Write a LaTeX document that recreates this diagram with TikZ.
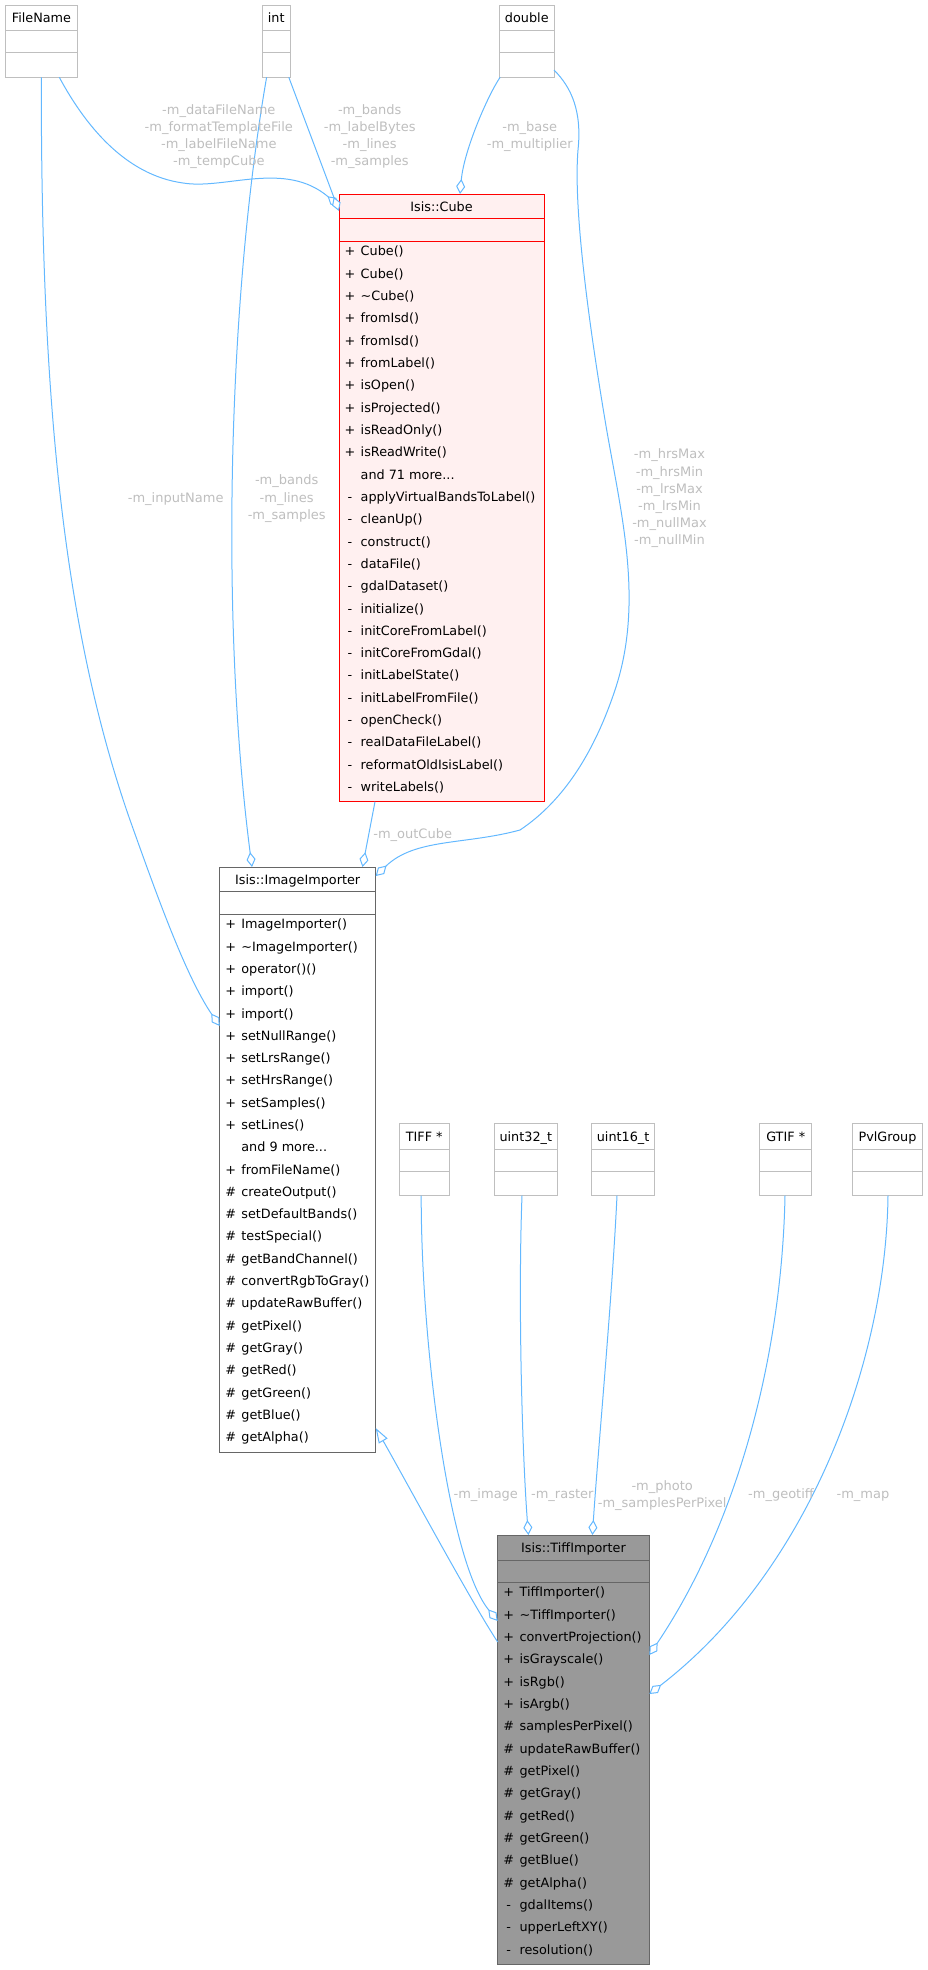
\documentclass[tikz,border=0pt]{standalone}
\usepackage{fontspec}
\usetikzlibrary{arrows.meta,calc}
\newfontfamily\dvs{DejaVu Sans}
\newcommand\cbfont{\dvs\fontsize{12.8}{15}\selectfont}
\newcommand\elfont{\dvs\fontsize{13}{17.2}\selectfont}
\newcommand\tdots{.\kern0pt.\kern0pt.}
\definecolor{edgeblue}{HTML}{63B8FF}
\definecolor{lblgray}{HTML}{BEBEBE}
\definecolor{typegray}{HTML}{BFBFBF}
\definecolor{cubered}{HTML}{FF0000}
\definecolor{cubefill}{HTML}{FFF0F0}
\definecolor{darkgraysix}{HTML}{666666}
\definecolor{tifffill}{HTML}{999999}
\tikzset{
 conn/.style={draw=edgeblue, line width=1pt},
 agg/.style={conn, -{Diamond[length=15pt,width=9pt,fill=white]}},
 inh/.style={conn, -{Triangle[length=15pt,width=10pt,fill=white]}},
 elabel/.style={text=lblgray, font=\elfont, align=center, inner sep=0pt},
 rowtxt/.style={font=\cbfont, inner sep=0pt, text=black},
 hdrtxt/.style={font=\cbfont, inner sep=0pt, anchor=base, text=black},
}
\newcommand\mkclass[9]{%
 \node[draw=#8, fill=#9, line width=1pt, minimum width=#4pt, minimum height=#5pt, anchor=north west, inner sep=0pt, outer sep=0pt] (#1) at (#2,#3) {};
 \draw[#8, line width=1pt] ($(#1.north west)+(0,#6)$) -- ($(#1.north east)+(0,#6)$);
 \draw[#8, line width=1pt] ($(#1.north west)+(0,#7)$) -- ($(#1.north east)+(0,#7)$);
}
\begin{document}
\begin{tikzpicture}[x=1pt,y=-1pt]
\useasboundingbox (0,0) rectangle (927,1970);
% ---- type boxes (top)
\mkclass{fn}{5.2}{5}{72.5}{72.3}{25.3}{47.3}{typegray}{white}
\node[hdrtxt] (fn-h) at ($(fn.north)+(0,17.8)$) {FileName};
\mkclass{int}{262.4}{5}{27.6}{72.3}{25.3}{47.3}{typegray}{white}
\node[hdrtxt] (int-h) at ($(int.north)+(0,17.8)$) {int};
\mkclass{dbl}{499.6}{5}{54.4}{72.3}{25.3}{47.3}{typegray}{white}
\node[hdrtxt] (dbl-h) at ($(dbl.north)+(0,17.8)$) {double};
% ---- type boxes (bottom row)
\mkclass{tiffp}{399.2}{1123.3}{50}{72.4}{25.7}{48}{typegray}{white}
\node[hdrtxt] (tiffp-h) at ($(tiffp.north)+(0,18.4)$) {TIFF *};
\mkclass{u32}{494.2}{1123.3}{63.2}{72.4}{25.7}{48}{typegray}{white}
\node[hdrtxt] (u32-h) at ($(u32.north)+(0,18.4)$) {uint32\_t};
\mkclass{u16}{591.7}{1123.3}{62.8}{72.4}{25.7}{48}{typegray}{white}
\node[hdrtxt] (u16-h) at ($(u16.north)+(0,18.4)$) {uint16\_t};
\mkclass{gtif}{759.7}{1123.3}{52}{72.4}{25.7}{48}{typegray}{white}
\node[hdrtxt] (gtif-h) at ($(gtif.north)+(0,18.4)$) {GTIF *};
\mkclass{pvl}{852.6}{1123.3}{69.8}{72.4}{25.7}{48}{typegray}{white}
\node[hdrtxt] (pvl-h) at ($(pvl.north)+(0,18.4)$) {PvlGroup};
% ---- Isis::Cube
\mkclass{cube}{339}{194}{205}{607.7}{24.7}{47}{cubered}{cubefill}
\node[hdrtxt] (cube-h) at ($(cube.north)+(0,17.8)$) {Isis::Cube};
\foreach \s/\t [count=\i from 0] in {+/Cube(), +/Cube(), +/\textasciitilde Cube(), +/fromIsd(), +/fromIsd(), +/fromLabel(), +/isOpen(), +/isProjected(), +/isReadOnly(), +/isReadWrite(), {}/and 71 more\tdots, -/applyVirtualBandsToLabel(), -/cleanUp(), -/construct(), -/dataFile(), -/gdalDataset(), -/initialize(), -/initCoreFromLabel(), -/initCoreFromGdal(), -/initLabelState(), -/initLabelFromFile(), -/openCheck(), -/realDataFileLabel(), -/reformatOldIsisLabel(), -/writeLabels()}{
  \node[rowtxt, anchor=base] (cube-s\i) at (350, {255.9+22.32*\i}) {\s};
  \node[rowtxt, anchor=base west] (cube-r\i) at (360.5, {255.9+22.32*\i}) {\t};
}
% ---- Isis::ImageImporter
\mkclass{ii}{219.7}{867}{156}{585.7}{24.7}{47}{darkgraysix}{white}
\node[hdrtxt] (ii-h) at ($(ii.north)+(0,17.6)$) {Isis::ImageImporter};
\foreach \s/\t [count=\i from 0] in {+/ImageImporter(), +/\textasciitilde ImageImporter(), +/operator()(), +/import(), +/import(), +/setNullRange(), +/setLrsRange(), +/setHrsRange(), +/setSamples(), +/setLines(), {}/and 9 more\tdots, +/fromFileName(), \#/createOutput(), \#/setDefaultBands(), \#/testSpecial(), \#/getBandChannel(), \#/convertRgbToGray(), \#/updateRawBuffer(), \#/getPixel(), \#/getGray(), \#/getRed(), \#/getGreen(), \#/getBlue(), \#/getAlpha()}{
  \node[rowtxt, anchor=base] (ii-s\i) at (230.7, {928.9+22.29*\i}) {\s};
  \node[rowtxt, anchor=base west] (ii-r\i) at (241.2, {928.9+22.29*\i}) {\t};
}
% ---- Isis::TiffImporter
\mkclass{ti}{497.7}{1535}{151.6}{429.3}{25}{47}{darkgraysix}{tifffill}
\node[hdrtxt] (ti-h) at ($(ti.north)+(0,17.8)$) {Isis::TiffImporter};
\foreach \s/\t [count=\i from 0] in {+/TiffImporter(), +/\textasciitilde TiffImporter(), +/convertProjection(), +/isGrayscale(), +/isRgb(), +/isArgb(), \#/samplesPerPixel(), \#/updateRawBuffer(), \#/getPixel(), \#/getGray(), \#/getRed(), \#/getGreen(), \#/getBlue(), \#/getAlpha(), -/gdalItems(), -/upperLeftXY(), -/resolution()}{
  \node[rowtxt, anchor=base] (ti-s\i) at (508.7, {1596.9+22.33*\i}) {\s};
  \node[rowtxt, anchor=base west] (ti-r\i) at (519.4, {1596.9+22.33*\i}) {\t};
}
% ---- connectors
\draw[agg] ($(fn.south west)+(54.1,0)$) .. controls (85,125) and (125,175) .. (183,183) .. controls (225,190) and (285,160) .. ($(cube.north west)+(0,12)$);
\draw[agg] ($(int.south west)+(26.4,0)$) -- ($(cube.north west)+(0,17)$);
\draw[agg] ($(dbl.south west)+(0.5,0)$) .. controls (488,95) and (464,150) .. ($(cube.north west)+(121,0)$);
\draw[agg] ($(fn.south west)+(36.1,0)$) .. controls (41,380) and (60,620) .. (130,820) .. controls (155,890) and (185,975) .. ($(ii.north west)+(0,159)$);
\draw[agg] ($(int.south west)+(4.2,0)$) .. controls (228,300) and (220,620) .. ($(ii.north west)+(32.3,0)$);
\draw[agg] ($(cube.south west)+(36,0)$) -- ($(ii.north west)+(142.8,0)$);
\draw[agg] ($(dbl.south east)+(0,-7.3)$) .. controls (572,88) and (582,112) .. (578,150) .. controls (573,210) and (590,330) .. (605,420) .. controls (620,510) and (645,600) .. (615,690) .. controls (595,750) and (565,800) .. (520,830) .. controls (465,845) and (415,838) .. ($(ii.north east)+(0,9)$);
\draw[inh] ($(ti.north west)+(0,107)$) .. controls (470,1600) and (400,1470) .. ($(ii.south east)+(0,-24.7)$);
\draw[agg] ($(tiffp.south west)+(22,0)$) .. controls (421,1340) and (448,1560) .. ($(ti.north west)+(0,86)$);
\draw[agg] ($(u32.south west)+(27.8,0)$) .. controls (518,1300) and (522,1450) .. ($(ti.north west)+(30.7,0)$);
\draw[agg] ($(u16.south west)+(25.3,0)$) .. controls (612,1300) and (598,1450) .. ($(ti.north west)+(94.7,0)$);
\draw[agg] ($(gtif.south west)+(25.3,0)$) .. controls (782,1350) and (740,1520) .. ($(ti.north east)+(0,120)$);
\draw[agg] ($(pvl.south west)+(35.4,0)$) .. controls (886,1360) and (810,1570) .. ($(ti.north east)+(0,159)$);
% ---- connector labels
\node[elabel] (l-fc) at (218.8,136.4) {\strut -m\_dataFileName\\\strut -m\_formatTemplateFile\\\strut -m\_labelFileName\\\strut -m\_tempCube};
\node[elabel] (l-ic) at (369.7,136.4) {\strut -m\_bands\\\strut -m\_labelBytes\\\strut -m\_lines\\\strut -m\_samples};
\node[elabel] (l-dc) at (529.8,136.6) {\strut -m\_base\\\strut -m\_multiplier};
\node[elabel] (l-fi) at (175.7,498.8) {\strut -m\_inputName};
\node[elabel] (l-ii) at (286.7,498.6) {\strut -m\_bands\\\strut -m\_lines\\\strut -m\_samples};
\node[elabel] (l-oc) at (412.7,835.1) {\strut -m\_outCube};
\node[elabel] (l-di) at (669.5,498.4) {\strut -m\_hrsMax\\\strut -m\_hrsMin\\\strut -m\_lrsMax\\\strut -m\_lrsMin\\\strut -m\_nullMax\\\strut -m\_nullMin};
\node[elabel] (l-im) at (485.8,1495.4) {\strut -m\_image};
\node[elabel] (l-ra) at (562.3,1495.4) {\strut -m\_raster};
\node[elabel] (l-ph) at (662.2,1495.4) {\strut -m\_photo\\\strut -m\_samplesPerPixel};
\node[elabel] (l-ge) at (781,1495.4) {\strut -m\_geotiff};
\node[elabel] (l-ma) at (863,1495.4) {\strut -m\_map};
\end{tikzpicture}
\end{document}
